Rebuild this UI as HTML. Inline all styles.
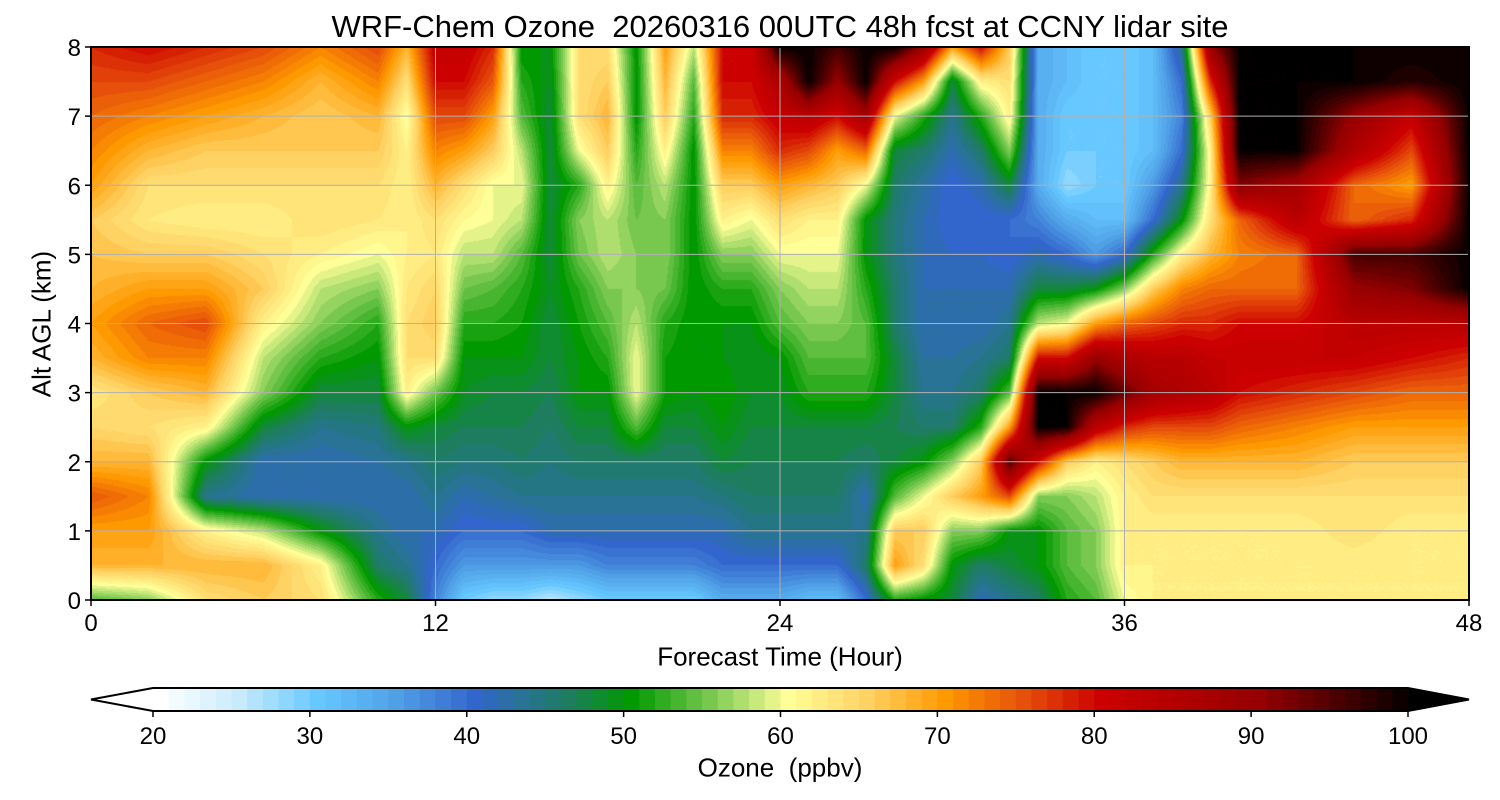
<!DOCTYPE html>
<html><head><meta charset="utf-8">
<style>
html,body{margin:0;padding:0;background:#fff;}
#wrap{position:relative;width:1500px;height:800px;font-family:"Liberation Sans",sans-serif;color:#000;}
.t{position:absolute;white-space:nowrap;}
</style></head>
<body>
<div id="wrap">
<div class="t" style="left:0;width:1560px;text-align:center;top:9px;font-size:31px;">WRF-Chem Ozone&nbsp; 20260316 00UTC 48h fcst at CCNY lidar site</div>
<canvas id="plot" width="1378" height="553" style="position:absolute;left:91px;top:47px;"></canvas>
<svg id="ov" width="1500" height="800" style="position:absolute;left:0;top:0;"></svg>
<div class="t" style="left:42px;top:324px;font-size:26px;transform:translate(-50%,-50%) rotate(-90deg);">Alt AGL (km)</div>
<div class="t" style="left:780px;top:657px;font-size:26px;transform:translate(-50%,-50%);">Forecast Time (Hour)</div>
<div class="t" style="left:780px;top:768px;font-size:26px;transform:translate(-50%,-50%);">Ozone&nbsp; (ppbv)</div>
</div>
<script>
const times=[0,2,4,6,8,10,11,12,13,14,15,16,17,18,19,20,21,22,23,24,25,26,27,28,29,30,31,32,33,34,35,36,37,38,39,40,42,44,46,48];
const alts=[0,0.5,1,1.5,2,2.5,3,3.5,4,4.5,5,5.5,6,6.5,7,7.5,8];
const ozone=[
[54,68,70,75,68,65,63,68,70,68,67,66,70,72,74,76,78],
[56,68,70,72,68,64,66,72,74,70,66,63,64,68,72,76,80],
[64,68,62,44,50,62,68,72,76,70,66,62,64,66,70,74,78],
[66,68,58,42,42,48,56,58,62,66,64,62,64,66,68,72,76],
[64,62,50,42,42,44,48,52,56,58,62,64,64,66,66,68,72],
[52,46,44,42,43,45,48,50,52,56,60,63,64,66,68,72,76],
[48,44,42,42,44,50,62,64,64,63,62,62,62,62,60,64,68],
[38,40,42,44,46,48,55,64,66,65,63,64,68,72,76,80,82],
[30,36,40,42,45,47,49,50,52,55,58,61,64,70,76,80,82],
[28,36,40,43,45,47,48,50,52,54,58,60,60,66,70,75,78],
[28,36,40,44,46,47,48,50,51,52,54,58,60,58,54,52,50],
[26,36,42,44,45,46,47,48,48,49,48,48,48,48,48,49,50],
[28,36,42,44,46,48,50,50,51,52,55,56,52,60,64,64,64],
[30,38,42,44,46,48,50,52,54,56,58,58,62,66,68,66,64],
[30,38,42,44,46,54,60,60,58,56,56,55,54,52,50,50,50],
[30,38,42,44,46,48,51,51,52,55,56,56,58,62,66,68,70],
[30,38,42,44,46,48,50,50,50,50,50,50,50,50,52,54,58],
[34,40,42,45,48,50,51,50,50,52,56,62,66,72,78,80,80],
[34,40,44,46,47,48,49,49,50,52,56,60,66,72,78,80,80],
[34,40,44,46,47,48,49,50,54,56,60,64,70,78,82,86,100],
[32,40,44,46,47,48,52,54,56,58,60,62,68,76,84,100,100],
[32,40,44,46,47,48,52,54,56,58,60,62,66,70,80,90,96],
[40,46,44,42,46,48,52,54,54,52,50,50,60,74,88,100,100],
[52,70,66,54,48,47,48,48,46,46,45,45,46,48,60,80,100],
[50,64,66,60,50,46,44,43,42,42,42,42,43,46,52,70,90],
[48,50,56,66,56,46,44,43,42,42,41,40,40,42,44,48,70],
[42,46,56,70,66,52,46,44,42,42,41,40,42,46,52,62,80],
[44,48,50,76,96,70,54,46,44,42,40,40,48,56,62,64,66],
[46,50,50,56,80,100,100,80,58,48,42,38,34,34,34,34,34],
[52,54,54,56,66,100,100,80,60,48,40,34,28,30,30,32,32],
[54,56,56,58,62,84,100,90,70,50,36,32,30,30,30,30,30],
[60,62,62,62,64,78,94,86,74,56,40,32,30,30,30,30,30],
[62,62,62,64,66,76,88,84,76,66,52,40,36,32,32,32,32],
[62,62,62,64,68,76,86,84,78,72,62,50,44,40,38,40,44],
[62,62,62,64,68,76,84,82,78,74,68,64,62,62,66,78,90],
[62,62,62,64,68,74,80,82,80,74,72,74,92,100,100,100,100],
[62,62,62,64,68,72,78,82,80,74,74,84,88,100,100,100,100],
[62,62,64,64,66,70,76,82,84,90,96,74,74,86,90,100,100],
[62,62,62,64,66,70,74,80,84,92,96,78,70,76,82,98,100],
[62,62,62,64,66,70,74,78,84,100,100,100,100,100,100,100,100]
];
const xTicks=[0,12,24,36,48];
const yTicks=[0,1,2,3,4,5,6,7,8];
const cbTicks=[20,30,40,50,60,70,80,90,100];
const stops=[[20,[255,255,255]],[25,[200,235,252]],[30,[102,200,255]],[35,[80,160,230]],[40,[51,102,204]],[43,[40,115,150]],[46,[30,125,95]],[50,[0,153,0]],[55,[120,200,80]],[60,[255,255,153]],[65,[255,210,100]],[70,[255,153,0]],[75,[230,80,10]],[80,[204,0,0]],[90,[150,0,0]],[100,[0,0,0]]];
function cmap(v){
  v=Math.max(20,Math.min(100,Math.floor(v)));
  for(let i=0;i<stops.length-1;i++){const a=stops[i],b=stops[i+1];
    if(v<=b[0]){const f=(v-a[0])/(b[0]-a[0]);return a[1].map((c,k)=>Math.round(c+(b[1][k]-c)*f));}}
  return [0,0,0];
}
const PX=91,PY=47,PW=1378,PH=553;
const xs=t=>PX+t/48*PW, ys=a=>PY+PH-a/8*PH;
const cv=document.getElementById('plot'),ctx=cv.getContext('2d');
const img=ctx.createImageData(PW,PH);
const nT=times.length,nA=alts.length;
for(let py=0;py<PH;py++){
  const a=(PH-py-0.5)/PH*8;
  let j=0;while(j<nA-2&&alts[j+1]<a)j++;
  const fy=Math.max(0,Math.min(1,(a-alts[j])/(alts[j+1]-alts[j])));
  for(let px=0;px<PW;px++){
    const t=(px+0.5)/PW*48;
    let i=0;while(i<nT-2&&times[i+1]<t)i++;
    const fx=Math.max(0,Math.min(1,(t-times[i])/(times[i+1]-times[i])));
    const v=ozone[i][j]*(1-fx)*(1-fy)+ozone[i+1][j]*fx*(1-fy)+ozone[i][j+1]*(1-fx)*fy+ozone[i+1][j+1]*fx*fy;
    const c=cmap(v),o=(py*PW+px)*4;
    img.data[o]=c[0];img.data[o+1]=c[1];img.data[o+2]=c[2];img.data[o+3]=255;
  }
}
ctx.putImageData(img,0,0);
const NS='http://www.w3.org/2000/svg',ov=document.getElementById('ov');
function mk(tag,attrs,text){const e=document.createElementNS(NS,tag);for(const k in attrs)e.setAttribute(k,attrs[k]);if(text!==undefined)e.textContent=text;ov.appendChild(e);return e;}
xTicks.forEach(t=>{
  const g=mk('line',{x1:xs(t),x2:xs(t),y1:PY,y2:PY+PH,stroke:'#b0b0b0','stroke-width':1});
  
  
  mk('line',{x1:xs(t),x2:xs(t),y1:PY+PH,y2:PY+PH+6,stroke:'#000','stroke-width':1.5});
  const l=mk('text',{x:xs(t),y:631,'font-size':24,'text-anchor':'middle','font-family':'Liberation Sans'},t);
  
  
});
yTicks.forEach(a=>{
  const g=mk('line',{x1:PX,x2:PX+PW,y1:ys(a),y2:ys(a),stroke:'#b0b0b0','stroke-width':1});
  
  
  mk('line',{x1:PX-6,x2:PX,y1:ys(a),y2:ys(a),stroke:'#000','stroke-width':1.5});
  const l=mk('text',{x:PX-10,y:ys(a)+9,'font-size':24,'text-anchor':'end','font-family':'Liberation Sans'},a);
  
  
});
const fr=mk('rect',{x:PX,y:PY,width:PW,height:PH,fill:'none',stroke:'#000','stroke-width':2});


const CX0=153,CX1=1408,CY=688,CH=23;
const cx=v=>CX0+(v-20)/80*(CX1-CX0);
for(let v=20;v<100;v++){
  const c=cmap(v);
  const r=mk('rect',{x:cx(v),y:CY,width:cx(v+1)-cx(v)+0.6,height:CH,fill:`rgb(${c})`});
  
  
}
mk('polygon',{points:`${CX0},${CY} 91,${CY+CH/2} ${CX0},${CY+CH}`,fill:'#fff'});
mk('polygon',{points:`${CX1},${CY} 1469,${CY+CH/2} ${CX1},${CY+CH}`,fill:'#000'});
const cbo=mk('polygon',{points:`${CX0},${CY} ${CX1},${CY} 1469,${CY+CH/2} ${CX1},${CY+CH} ${CX0},${CY+CH} 91,${CY+CH/2}`,fill:'none',stroke:'#000','stroke-width':2});


cbTicks.forEach(v=>{
  mk('line',{x1:cx(v),x2:cx(v),y1:CY+CH,y2:CY+CH+6,stroke:'#000','stroke-width':1.5});
  const l=mk('text',{x:cx(v),y:744,'font-size':24,'text-anchor':'middle','font-family':'Liberation Sans'},v);
  
  
});
</script>
</body></html>
